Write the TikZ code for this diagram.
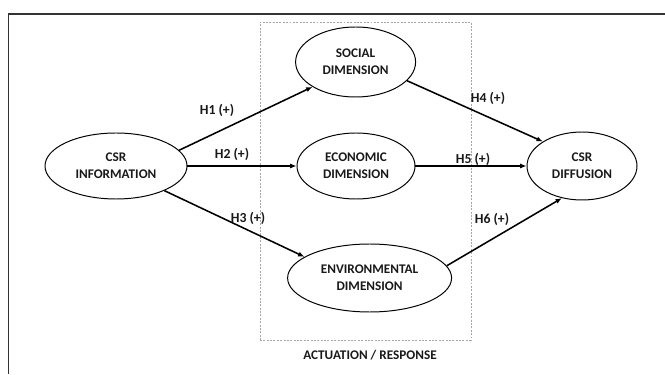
\documentclass[tikz,border=0pt]{standalone}
\usepackage{fontspec}
\setmainfont{Carlito}
\usetikzlibrary{shapes.geometric, arrows.meta}

\begin{document}
\begin{tikzpicture}[
    x=1cm, y=1cm,
    every node/.style={font=\fontsize{9.4}{12}\selectfont\bfseries, text=black!90},
    dim/.style={
        draw,
        ellipse,
        line width=0.7pt,
        align=center,
        inner sep=0pt
    },
    hyp/.style={font=\fontsize{9.8}{12}\selectfont\bfseries},
    arr/.style={-{Latex[length=4.5pt, width=3.6pt]}, line width=1.1pt},
    frame/.style={line width=1.3pt, black!80},
    zone/.style={draw=gray!70, line width=0.5pt, dash pattern=on 1.4pt off 1pt}
]

    \useasboundingbox (0,0) rectangle (16.625,9.35);

    % Open frame
    \draw[frame] (0.2125,0) |- (16.625,9.0);

    % Response zone
    \draw[zone] (6.5,0.85) rectangle (11.775,8.8);
    \node (zonelabel) at (9.25,0.47) {ACTUATION / RESPONSE};

    % Constructs
    \node[
        dim,
        minimum width=3.55cm,
        minimum height=1.65cm
    ] (info) at (2.9,5.2) {CSR\\ INFORMATION};

    \node[
        dim,
        minimum width=3.0cm,
        minimum height=1.75cm
    ] (social) at (8.89,7.8) {SOCIAL\\ DIMENSION};

    \node[
        dim,
        minimum width=2.95cm,
        minimum height=1.65cm
    ] (eco) at (8.9,5.2) {ECONOMIC\\ DIMENSION};

    \node[
        dim,
        minimum width=4.1cm,
        minimum height=1.7cm
    ] (env) at (9.24,2.4) {ENVIRONMENTAL\\ DIMENSION};

    \node[
        dim,
        minimum width=2.75cm,
        minimum height=1.7cm
    ] (diff) at (14.55,5.2) {CSR\\ DIFFUSION};

    % Hypotheses
    \draw[arr] (info.14) -- (social.210);
    \draw[arr] (info.east) -- (eco.west);
    \draw[arr] (info.333) -- (env.162);
    \draw[arr] (social.340) -- (diff.148);
    \draw[arr] (eco.east) -- (diff.west);
    \draw[arr] (env.9) -- (diff.238);

    \node[hyp] (h1) at (5.425,6.6) {H1 (+)};
    \node[hyp] (h2) at (5.8,5.5) {H2 (+)};
    \node[hyp] (h3) at (6.2,3.9) {H3 (+)};
    \node[hyp] (h4) at (12.2,6.9) {H4 (+)};
    \node[hyp] (h5) at (11.825,5.375) {H5 (+)};
    \node[hyp] (h6) at (12.3,3.875) {H6 (+)};

\end{tikzpicture}
\end{document}
